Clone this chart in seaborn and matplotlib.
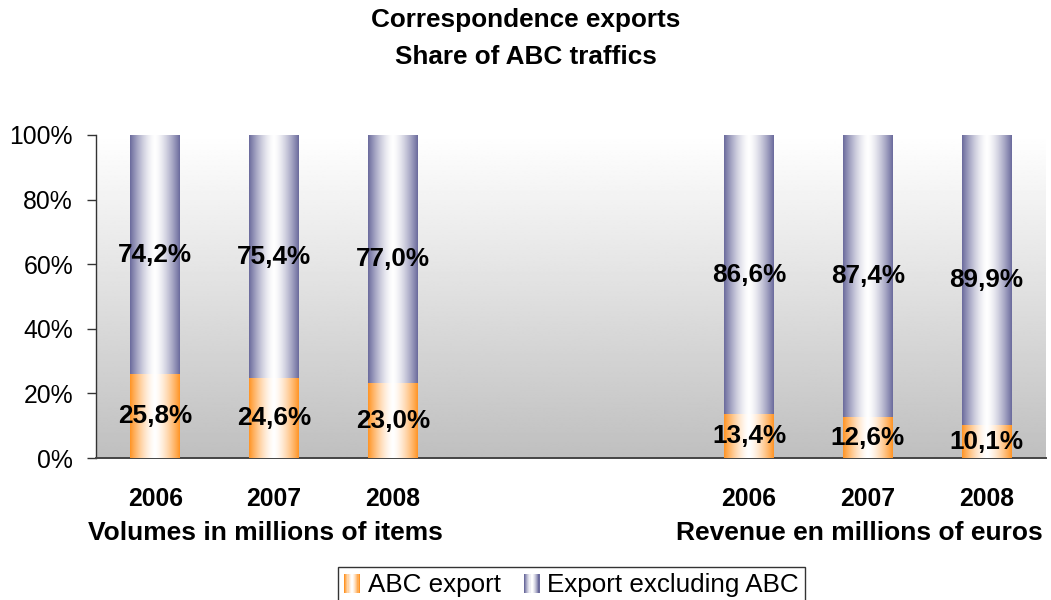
import numpy as np
import pandas as pd
import matplotlib
matplotlib.use("Agg")
import matplotlib.pyplot as plt
import seaborn as sns
from matplotlib.colors import to_rgb
from matplotlib.legend_handler import HandlerBase
from matplotlib.patches import Rectangle
from matplotlib.transforms import blended_transform_factory

# ---- data ----
years = ["2006", "2007", "2008"]
group_labels = ["Volumes in millions of items", "Revenue en millions of euros"]
abc_share = [25.8, 24.6, 23.0, 13.4, 12.6, 10.1]
other_share = [74.2, 75.4, 77.0, 86.6, 87.4, 89.9]
series_names = ["ABC export", "Export excluding ABC"]

bar_keys = ["V2006", "V2007", "V2008", "R2006", "R2007", "R2008"]
slot_order = ["V2006", "V2007", "V2008", "gap1", "gap2", "R2006", "R2007", "R2008"]

df = pd.DataFrame({"slot": bar_keys, "abc": abc_share, "other": other_share})
df["total"] = df["abc"] + df["other"]

ORANGE = "#ff9424"
PURPLE = "#6a6a9c"
FONT = "Liberation Sans"

sns.set_theme(style="white")
plt.rcParams["font.family"] = [FONT, "DejaVu Sans"]
plt.rcParams["text.color"] = "black"
plt.rcParams["xtick.color"] = "black"
plt.rcParams["ytick.color"] = "black"


def gradient_row(edge, n=256, p=1.5):
    t = np.linspace(0, 1, n)
    f = 1 - np.abs(2 * t - 1) ** p
    e = np.array(to_rgb(edge))
    w = np.ones(3)
    return e[None, :] * (1 - f[:, None]) + w[None, :] * f[:, None]


class GradientHandler(HandlerBase):
    def __init__(self, edge):
        super().__init__()
        self.edge = edge

    def create_artists(self, legend, orig_handle, xdescent, ydescent,
                       width, height, fontsize, trans):
        n = 14
        cols = gradient_row(self.edge, n=n)
        arts = []
        for i in range(n):
            r = Rectangle((-xdescent + i * width / n, -ydescent),
                          width / n * 1.08, height,
                          facecolor=cols[i], edgecolor="none",
                          transform=trans)
            arts.append(r)
        return arts


fig = plt.figure(figsize=(10.51, 6.0), dpi=100)
ax = fig.add_axes([96 / 1051, 1 - 458 / 600, (1046 - 96) / 1051, 323 / 600])

# background gradient of the plotting area
bg = np.linspace(0.75, 1.0, 256)[:, None] * np.ones((1, 2))
ax.imshow(bg, cmap="gray", vmin=0, vmax=1, origin="lower", aspect="auto",
          extent=[0, 1, 0, 1], transform=ax.transAxes, zorder=0,
          interpolation="bilinear")

bw = 0.42
sns.barplot(data=df, x="slot", y="total", order=slot_order, color=PURPLE,
            width=bw, errorbar=None, ax=ax, zorder=2)
n_tot = len(ax.patches)
sns.barplot(data=df, x="slot", y="abc", order=slot_order, color=ORANGE,
            width=bw, errorbar=None, ax=ax, zorder=3)

purple_grad = gradient_row(PURPLE)[None, :, :]
orange_grad = gradient_row(ORANGE)[None, :, :]

tot_patches = [p for p in ax.patches[:n_tot] if p.get_height() > 0]
abc_patches = [p for p in ax.patches[n_tot:] if p.get_height() > 0]

for tp, ap in zip(tot_patches, abc_patches):
    x0 = tp.get_x()
    x1 = x0 + tp.get_width()
    h_abc = ap.get_height()
    h_tot = tp.get_height()
    tp.set_visible(False)
    ap.set_visible(False)
    ax.imshow(purple_grad, extent=[x0, x1, h_abc, h_tot], aspect="auto",
              zorder=2, interpolation="bilinear")
    ax.imshow(orange_grad, extent=[x0, x1, 0, h_abc], aspect="auto",
              zorder=3, interpolation="bilinear")
    xc = (x0 + x1) / 2
    lab_abc = f"{h_abc:.1f}".replace(".", ",") + "%"
    lab_oth = f"{h_tot - h_abc:.1f}".replace(".", ",") + "%"
    ax.text(xc, h_abc / 2, lab_abc, ha="center", va="center",
            fontsize=18.8, fontweight="bold", color="black", zorder=5)
    ax.text(xc, h_abc + (h_tot - h_abc) / 2, lab_oth, ha="center",
            va="center", fontsize=18.8, fontweight="bold", color="black",
            zorder=5)

ax.set_xlim(-0.5, len(slot_order) - 0.5)
ax.set_ylim(0, 100)
ax.set_yticks([0, 20, 40, 60, 80, 100])
ax.set_yticklabels([f"{v}%" for v in range(0, 101, 20)], fontsize=17.8)
pos = [slot_order.index(k) for k in bar_keys]
ax.set_xticks(pos)
ax.set_xticklabels(years * 2, fontsize=17.8, fontweight="bold")
ax.tick_params(axis="x", length=0, pad=21)
ax.tick_params(axis="y", length=6.5, width=1, pad=10, color="#333333",
               direction="out", left=True)
ax.set_xlabel("")
ax.set_ylabel("")

for s in ["top", "right"]:
    ax.spines[s].set_visible(False)
ax.spines["left"].set_color("#333333")
ax.spines["left"].set_linewidth(1.0)
ax.spines["bottom"].set_color("#444444")
ax.spines["bottom"].set_linewidth(1.4)

# group captions under each set of years
btr = blended_transform_factory(ax.transData, ax.transAxes)
ax.text(0.93, -0.232, group_labels[0], transform=btr, ha="center",
        va="center", fontsize=19, fontweight="bold")
ax.text(5.93, -0.232, group_labels[1], transform=btr, ha="center",
        va="center", fontsize=19, fontweight="bold")

fig.text(0.5, 1 - 20 / 600, "Correspondence exports", ha="center",
         va="center", fontsize=18.8, fontweight="bold")
fig.text(0.5, 1 - 57 / 600, "Share of ABC traffics", ha="center",
         va="center", fontsize=18.8, fontweight="bold")

h1 = Rectangle((0, 0), 1, 1)
h2 = Rectangle((0, 0), 1, 1)
leg = fig.legend([h1, h2], series_names,
                 handler_map={h1: GradientHandler(ORANGE),
                              h2: GradientHandler(PURPLE)},
                 loc="upper center", bbox_to_anchor=(571.5 / 1051, 1 - 567 / 600),
                 ncol=2, fontsize=18.7, frameon=True, fancybox=False,
                 handlelength=0.6, handleheight=0.8, handletextpad=0.3,
                 columnspacing=0.9, borderpad=0.25, borderaxespad=0)
leg.get_frame().set_edgecolor("black")
leg.get_frame().set_linewidth(1.0)

fig.savefig("out.png", dpi=100)
